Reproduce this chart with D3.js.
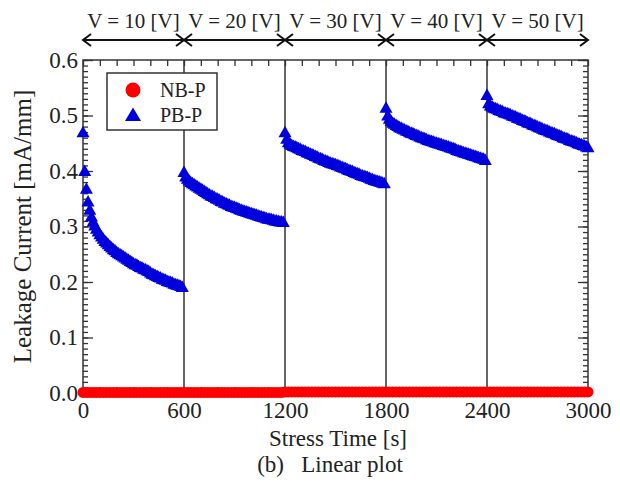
<!DOCTYPE html>
<html>
<head>
<meta charset="utf-8">
<script src="https://cdn.jsdelivr.net/npm/d3@7"></script>
<style>
  body { margin: 0; background: white; }
  text { font-family: "Liberation Serif", "Times New Roman", serif; fill: #222; }
</style>
</head>
<body>
<div id="d3_cont"></div>
<script>
// ---- data ----
var voltLabels = ["V = 10 [V]", "V = 20 [V]", "V = 30 [V]", "V = 40 [V]", "V = 50 [V]"];
var segStart = [0, 600, 1200, 1800, 2400];
var xTicks = [0, 600, 1200, 1800, 2400, 3000];
var yTicks = [0, 0.1, 0.2, 0.3, 0.4, 0.5, 0.6];
var pbStep = 10;   // s between PB-P samples
var nbStep = 20;   // s between NB-P samples

// PB-P leakage current [mA/mm], one array per stress step
var pbV10 = [0.470, 0.400, 0.368, 0.345, 0.330, 0.318, 0.309, 0.302, 0.296, 0.291,
             0.286, 0.282, 0.278, 0.274, 0.271, 0.268, 0.265, 0.262, 0.259, 0.257,
             0.254, 0.252, 0.250, 0.248, 0.246, 0.244, 0.242, 0.240, 0.238, 0.236,
             0.234, 0.232, 0.231, 0.229, 0.227, 0.226, 0.224, 0.223, 0.221, 0.220,
             0.217, 0.215, 0.214, 0.212, 0.211, 0.209, 0.208, 0.206, 0.205, 0.204,
             0.202, 0.201, 0.200, 0.199, 0.197, 0.196, 0.195, 0.194, 0.193, 0.191];
var pbV20 = [0.398, 0.390, 0.386, 0.383, 0.380, 0.378, 0.376, 0.374, 0.372, 0.370,
             0.368, 0.366, 0.364, 0.362, 0.360, 0.358, 0.356, 0.355, 0.353, 0.351,
             0.350, 0.348, 0.346, 0.345, 0.343, 0.342, 0.340, 0.339, 0.337, 0.336,
             0.335, 0.334, 0.333, 0.331, 0.330, 0.329, 0.328, 0.327, 0.326, 0.325,
             0.324, 0.323, 0.322, 0.321, 0.320, 0.319, 0.318, 0.317, 0.316, 0.315,
             0.314, 0.314, 0.313, 0.312, 0.311, 0.311, 0.310, 0.309, 0.309, 0.308];
var pbV30 = [0.470, 0.458, 0.452, 0.449, 0.447, 0.445, 0.444, 0.443, 0.441, 0.440,
             0.438, 0.437, 0.436, 0.434, 0.433, 0.431, 0.430, 0.429, 0.427, 0.426,
             0.424, 0.423, 0.422, 0.420, 0.419, 0.418, 0.416, 0.415, 0.414, 0.413,
             0.412, 0.411, 0.410, 0.408, 0.407, 0.406, 0.405, 0.403, 0.402, 0.401,
             0.400, 0.398, 0.397, 0.396, 0.395, 0.393, 0.392, 0.391, 0.390, 0.389,
             0.388, 0.386, 0.385, 0.384, 0.383, 0.382, 0.381, 0.380, 0.379, 0.378];
var pbV40 = [0.514, 0.500, 0.494, 0.490, 0.487, 0.485, 0.483, 0.481, 0.479, 0.478,
             0.476, 0.475, 0.473, 0.472, 0.470, 0.469, 0.468, 0.466, 0.465, 0.464,
             0.462, 0.461, 0.460, 0.459, 0.457, 0.456, 0.455, 0.454, 0.453, 0.452,
             0.451, 0.450, 0.449, 0.448, 0.447, 0.446, 0.445, 0.444, 0.443, 0.442,
             0.441, 0.440, 0.438, 0.437, 0.436, 0.435, 0.434, 0.433, 0.432, 0.431,
             0.430, 0.429, 0.428, 0.427, 0.426, 0.425, 0.424, 0.423, 0.422, 0.420];
var pbV50 = [0.537, 0.522, 0.518, 0.516, 0.514, 0.513, 0.512, 0.510, 0.509, 0.508,
             0.506, 0.505, 0.504, 0.503, 0.502, 0.500, 0.499, 0.498, 0.496, 0.495,
             0.494, 0.492, 0.491, 0.490, 0.488, 0.487, 0.486, 0.484, 0.483, 0.482,
             0.480, 0.479, 0.478, 0.476, 0.475, 0.474, 0.473, 0.471, 0.470, 0.469,
             0.468, 0.466, 0.465, 0.464, 0.463, 0.461, 0.460, 0.459, 0.458, 0.456,
             0.455, 0.454, 0.453, 0.452, 0.450, 0.449, 0.448, 0.447, 0.446, 0.444,
             0.443];

// NB-P leakage current [mA/mm], stays near zero
var nbV10 = [0.001, 0.001, 0.001, 0.001, 0.001, 0.001, 0.001, 0.001, 0.001, 0.001,
             0.001, 0.001, 0.001, 0.001, 0.001, 0.001, 0.001, 0.001, 0.001, 0.001,
             0.001, 0.001, 0.001, 0.001, 0.001, 0.001, 0.001, 0.001, 0.001, 0.001];
var nbV20 = [0.001, 0.001, 0.001, 0.001, 0.001, 0.001, 0.001, 0.001, 0.001, 0.001,
             0.001, 0.001, 0.001, 0.001, 0.001, 0.001, 0.001, 0.001, 0.001, 0.001,
             0.001, 0.001, 0.001, 0.001, 0.001, 0.001, 0.001, 0.001, 0.001, 0.001];
var nbV30 = [0.002, 0.002, 0.002, 0.002, 0.002, 0.002, 0.002, 0.002, 0.002, 0.002,
             0.002, 0.002, 0.002, 0.002, 0.002, 0.002, 0.002, 0.002, 0.002, 0.002,
             0.002, 0.002, 0.002, 0.002, 0.002, 0.002, 0.002, 0.002, 0.002, 0.002];
var nbV40 = [0.002, 0.002, 0.002, 0.002, 0.002, 0.002, 0.002, 0.002, 0.002, 0.002,
             0.002, 0.002, 0.002, 0.002, 0.002, 0.002, 0.002, 0.002, 0.002, 0.002,
             0.002, 0.002, 0.002, 0.002, 0.002, 0.002, 0.002, 0.002, 0.002, 0.002];
var nbV50 = [0.002, 0.002, 0.002, 0.002, 0.002, 0.002, 0.002, 0.002, 0.002, 0.002,
             0.002, 0.002, 0.002, 0.002, 0.002, 0.002, 0.002, 0.002, 0.002, 0.002,
             0.002, 0.002, 0.002, 0.002, 0.002, 0.002, 0.002, 0.002, 0.002, 0.002,
             0.002];

var pbSegs = [pbV10, pbV20, pbV30, pbV40, pbV50];
var nbSegs = [nbV10, nbV20, nbV30, nbV40, nbV50];

// flatten into {t, v} points
var toPoints = function (segs, step) {
   var pts = [];
   segs.forEach(function (vals, k) {
      vals.forEach(function (v, i) { pts.push({ t: segStart[k] + i * step, v: v }); });
   });
   return pts;
};
var pbData = toPoints(pbSegs, pbStep);
var nbData = toPoints(nbSegs, nbStep);

// ---- layout ----
var W = 620, H = 484;
var pLeft = 83, pRight = 588, pTop = 60, pBottom = 393;

var svg = d3.select("#d3_cont")
   .append("svg")
   .attr("width", W)
   .attr("height", H)
   .style("background", "white");

var x = d3.scaleLinear().domain([0, 3000]).range([pLeft, pRight]);
var y = d3.scaleLinear().domain([0, 0.6]).range([pBottom, pTop]);

var axisColor = "#333";

// stress-step boundaries
svg.append("g")
   .selectAll("line")
   .data(segStart.slice(1))
   .enter()
   .append("line")
   .attr("x1", function (d) { return x(d); })
   .attr("x2", function (d) { return x(d); })
   .attr("y1", pTop)
   .attr("y2", pBottom)
   .attr("stroke", axisColor)
   .attr("stroke-width", 1.5);

// minor / major ticks, all pointing inwards
var minorX = d3.range(0, 3001, 100);
var minorY = d3.range(0, 61, 1).map(function (d) { return d / 100; });

var tickAxis = function (axisFn, scale, values, size, pos) {
   var g = svg.append("g")
      .attr("transform", pos)
      .call(axisFn(scale).tickValues(values).tickSize(-size).tickSizeOuter(0).tickFormat(""));
   g.select(".domain").remove();
   g.selectAll("line").attr("stroke", axisColor).attr("stroke-width", 1.3);
   return g;
};
tickAxis(d3.axisTop, x, minorX, 6, "translate(0," + pTop + ")");
tickAxis(d3.axisBottom, x, minorX, 6, "translate(0," + pBottom + ")");
tickAxis(d3.axisLeft, y, minorY, 5, "translate(" + pLeft + ",0)");
tickAxis(d3.axisRight, y, minorY, 5, "translate(" + pRight + ",0)");
tickAxis(d3.axisLeft, y, yTicks, 10, "translate(" + pLeft + ",0)");
tickAxis(d3.axisRight, y, yTicks, 10, "translate(" + pRight + ",0)");

// tick labels
var xLab = svg.append("g")
   .attr("transform", "translate(0," + pBottom + ")")
   .call(d3.axisBottom(x).tickValues(xTicks).tickSize(0).tickPadding(9).tickFormat(d3.format("d")));
xLab.select(".domain").remove();
xLab.selectAll("text").style("font-size", "23px").style("font-family", "Liberation Serif").attr("fill", "#222");

var yLab = svg.append("g")
   .attr("transform", "translate(" + pLeft + ",0)")
   .call(d3.axisLeft(y).tickValues(yTicks).tickSize(0).tickPadding(5).tickFormat(d3.format(".1f")));
yLab.select(".domain").remove();
yLab.selectAll("text").style("font-size", "23px").style("font-family", "Liberation Serif").attr("fill", "#222");

// frame
svg.append("rect")
   .attr("x", pLeft).attr("y", pTop)
   .attr("width", pRight - pLeft).attr("height", pBottom - pTop)
   .attr("fill", "none")
   .attr("stroke", axisColor)
   .attr("stroke-width", 1.5);

// NB-P markers
svg.append("g")
   .selectAll("circle")
   .data(nbData)
   .enter()
   .append("circle")
   .attr("cx", function (d) { return x(d.t); })
   .attr("cy", function (d) { return y(d.v); })
   .attr("r", 5.5)
   .attr("fill", "#ff0000");

// PB-P markers
var tri = "M0,-6.5L6.5,5L-6.5,5Z";
svg.append("g")
   .selectAll("path")
   .data(pbData)
   .enter()
   .append("path")
   .attr("d", tri)
   .attr("transform", function (d) { return "translate(" + x(d.t) + "," + y(d.v) + ")"; })
   .attr("fill", "#0000dd");

// voltage step arrows on top
var arrowY = 40, ah = 8, aw = 6;
var ag = svg.append("g").attr("stroke", "#111").attr("stroke-width", 2).attr("fill", "none");
ag.append("line").attr("x1", x(0)).attr("x2", x(3000)).attr("y1", arrowY).attr("y2", arrowY);
segStart.forEach(function (s) {
   var xs = x(s), xe = x(s + 600);
   ag.append("path").attr("d", "M" + (xs + ah) + "," + (arrowY - aw) + "L" + xs + "," + arrowY + "L" + (xs + ah) + "," + (arrowY + aw));
   ag.append("path").attr("d", "M" + (xe - ah) + "," + (arrowY - aw) + "L" + xe + "," + arrowY + "L" + (xe - ah) + "," + (arrowY + aw));
});
svg.append("g")
   .selectAll("text")
   .data(voltLabels)
   .enter()
   .append("text")
   .attr("x", function (d, i) { return x(segStart[i] + 300); })
   .attr("y", 28)
   .attr("text-anchor", "middle")
   .style("font-size", "21px")
   .text(function (d) { return d; });

// legend
var lg = svg.append("g");
lg.append("rect")
   .attr("x", 107).attr("y", 73).attr("width", 110).attr("height", 57)
   .attr("fill", "white").attr("stroke", axisColor).attr("stroke-width", 1.5);
lg.append("circle").attr("cx", 133).attr("cy", 90).attr("r", 7.5).attr("fill", "#ff0000");
lg.append("path").attr("d", "M0,-7.5L8,6L-8,6Z").attr("transform", "translate(133,115)").attr("fill", "#0000dd");
lg.append("text").attr("x", 160).attr("y", 97).style("font-size", "20px").text("NB-P");
lg.append("text").attr("x", 160).attr("y", 122).style("font-size", "20px").text("PB-P");

// axis titles
svg.append("text")
   .attr("transform", "translate(31," + ((pTop + pBottom) / 2) + ") rotate(-90)")
   .attr("text-anchor", "middle")
   .style("font-size", "25px")
   .text("Leakage Current [mA/mm]");
svg.append("text")
   .attr("x", 338).attr("y", 446)
   .attr("text-anchor", "middle")
   .style("font-size", "23px")
   .text("Stress Time [s]");
svg.append("text")
   .attr("x", 330).attr("y", 472)
   .attr("text-anchor", "middle")
   .style("font-size", "23px")
   .attr("xml:space", "preserve")
   .text("(b)   Linear plot");
</script>
</body>
</html>
